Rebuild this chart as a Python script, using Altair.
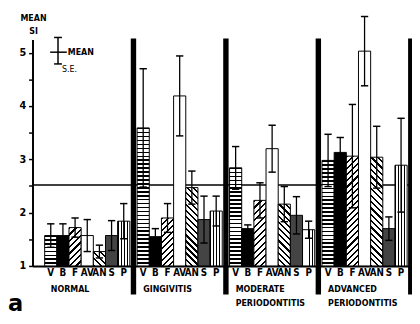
import math
import pandas as pd
import altair as alt

# ---------------- data ----------------
groups = ["NORMAL", "GINGIVITIS", "MODERATE\nPERIODONTITIS", "ADVANCED\nPERIODONTITIS"]
cats = ["V", "B", "F", "AV", "AN", "S", "P"]

normal_mean = [1.57, 1.57, 1.72, 1.57, 1.27, 1.57, 1.84]
normal_se = [0.22, 0.22, 0.18, 0.30, 0.12, 0.28, 0.33]
ging_mean = [3.59, 1.55, 1.90, 4.19, 2.47, 1.87, 2.03]
ging_se = [1.11, 0.15, 0.27, 0.75, 0.31, 0.44, 0.28]
mod_mean = [2.84, 1.70, 2.23, 3.20, 2.16, 1.95, 1.68]
mod_se = [0.40, 0.07, 0.33, 0.44, 0.33, 0.35, 0.16]
adv_mean = [2.98, 3.13, 3.06, 5.03, 3.04, 1.70, 2.89]
adv_se = [0.49, 0.28, 0.97, 0.65, 0.58, 0.22, 0.88]

ref_level = [2.52]
y_ticks = [1, 1.5, 2, 2.5, 3, 3.5, 4, 4.5, 5]

means = [normal_mean, ging_mean, mod_mean, adv_mean]
ses = [normal_se, ging_se, mod_se, adv_se]

# ---------------- layout ----------------
W, H = 387, 231
XDOM = [0, 31.2]
YDOM = [1, 5.25]
PX_X = W / (XDOM[1] - XDOM[0])
PX_Y = H / (YDOM[1] - YDOM[0])
STRIDE = 7.6
FONT = "DejaVu Sans Condensed"

rows = []
k = 0
for g in range(4):
    for i, c in enumerate(cats):
        m, s = means[g][i], ses[g][i]
        x0 = 1 + STRIDE * g + i
        rows.append(dict(idx=k, grp=g, cat=c, mean=m, se=s, x0=x0, x1=x0 + 1,
                         xc=x0 + 0.5, capl=x0 + 0.2, capr=x0 + 0.8,
                         lo=m - s, hi=m + s, base=1))
        k += 1
df = pd.DataFrame(rows)

gdf = pd.DataFrame({"g": groups, "gx": [1 + STRIDE * g + 0.5 for g in range(4)]})
sdf = pd.DataFrame({"sx": [8.3 + STRIDE * g for g in range(4)]})
rdf = pd.DataFrame({"ref": ref_level})

XS = alt.Scale(domain=XDOM, nice=False, zero=False)
YS = alt.Scale(domain=YDOM, nice=False, zero=False)
XA = alt.Axis(labels=False, ticks=False, grid=False, title=None,
              domainColor="black", domainWidth=2)
YA = alt.Axis(values=y_ticks,
              labelExpr="datum.value % 1 === 0 ? format(datum.value, 'd') : ''",
              grid=False, title=None, domainColor="black", domainWidth=2,
              tickColor="black", tickWidth=1.5, tickSize=4,
              labelFont=FONT, labelFontWeight="bold", labelFontSize=11,
              labelColor="black", labelPadding=3)


def X(f):
    return alt.X(f, type="quantitative", scale=XS, axis=XA)


def Y(f):
    return alt.Y(f, type="quantitative", scale=YS, axis=YA)


def stripes(n, frac):
    st = []
    for j in range(n):
        a = j / n
        b = (j + frac) / n
        e = (j + 1) / n
        st += [{"offset": a, "color": "black"}, {"offset": b, "color": "black"},
               {"offset": b, "color": "white"}, {"offset": e, "color": "white"}]
    return st


def fill_for(cat, mean):
    h = max((mean - 1) * PX_Y, 1)
    w = PX_X
    if cat == "B":
        return "black"
    if cat == "AV":
        return "white"
    if cat == "S":
        return "#444444"
    if cat == "V":
        n = max(2, round(h / 4))
        return {"gradient": "linear", "x1": 0, "y1": 0, "x2": 0, "y2": 1,
                "stops": stripes(n, 0.4)}
    if cat == "P":
        return {"gradient": "linear", "x1": 0, "y1": 0, "x2": 1, "y2": 0,
                "stops": stripes(4, 0.3)}
    c = (w + h) / (w * w + h * h)
    n = max(2, round((w + h) / (math.sqrt(2) * 4.5)))
    if cat == "F":
        return {"gradient": "linear", "x1": 0, "y1": 0, "x2": c * w, "y2": c * h,
                "stops": stripes(n, 0.35)}
    return {"gradient": "linear", "x1": 0, "y1": 1, "x2": c * w, "y2": 1 - c * h,
            "stops": stripes(n, 0.35)}


layers = []

# reference line
layers.append(alt.Chart(rdf).mark_rule(color="black", strokeWidth=1.5).encode(
    y=Y("ref"), x=alt.value(0), x2=alt.value(W)))

# bars
for _, r in df.iterrows():
    layers.append(
        alt.Chart(df).transform_filter(f"datum.idx == {int(r['idx'])}")
        .mark_bar(fill=fill_for(r["cat"], r["mean"]), stroke="black", strokeWidth=1)
        .encode(x=X("x0"), x2="x1", y=Y("mean"), y2="base"))

# error bars
layers.append(alt.Chart(df).mark_rule(color="black", strokeWidth=1.3).encode(
    x=X("xc"), y=Y("lo"), y2="hi"))
layers.append(alt.Chart(df).mark_rule(color="black", strokeWidth=1.5).encode(
    x=X("capl"), x2="capr", y=Y("hi")))
layers.append(alt.Chart(df).mark_rule(color="black", strokeWidth=1.5).encode(
    x=X("capl"), x2="capr", y=Y("lo")))

# separators
layers.append(alt.Chart(sdf).mark_rule(color="black", strokeWidth=5.5).encode(
    x=X("sx"), y=alt.value(-1), y2=alt.value(260)))

# category labels
layers.append(alt.Chart(df).mark_text(font=FONT, fontWeight="bold", fontSize=10,
                                      baseline="middle", color="black").encode(
    x=X("xc"), y=alt.value(238), text="cat:N"))

# group labels
layers.append(alt.Chart(gdf).mark_text(font=FONT, fontWeight="bold", fontSize=9,
                                       align="left", baseline="top", lineBreak="\n",
                                       lineHeight=14, color="black").encode(
    x=X("gx"), y=alt.value(251), text="g:N"))

# y title
tdf = pd.DataFrame({"t": ["MEAN\nSI"]})
layers.append(alt.Chart(tdf).mark_text(font=FONT, fontWeight="bold", fontSize=9,
                                       align="center", baseline="top", lineBreak="\n",
                                       lineHeight=13, color="black").encode(
    x=alt.value(1), y=alt.value(-26), text="t:N"))

# legend glyph
ldf = pd.DataFrame({"m": ["MEAN"], "s": ["S.E."], "a": ["a"]})
layers.append(alt.Chart(ldf).mark_rule(color="black", strokeWidth=1.5).encode(
    x=alt.value(26), y=alt.value(-2), y2=alt.value(25)))
layers.append(alt.Chart(ldf).mark_rule(color="black", strokeWidth=1.5).encode(
    x=alt.value(22), x2=alt.value(30), y=alt.value(-2)))
layers.append(alt.Chart(ldf).mark_rule(color="black", strokeWidth=1.5).encode(
    x=alt.value(22), x2=alt.value(30), y=alt.value(25)))
layers.append(alt.Chart(ldf).mark_rule(color="black", strokeWidth=1.5).encode(
    x=alt.value(18), x2=alt.value(35), y=alt.value(13)))
layers.append(alt.Chart(ldf).mark_text(font=FONT, fontWeight="bold", fontSize=9,
                                       align="left", baseline="middle", color="black").encode(
    x=alt.value(36), y=alt.value(13), text="m:N"))
layers.append(alt.Chart(ldf).mark_text(font=FONT, fontSize=9,
                                       align="left", baseline="middle", color="black").encode(
    x=alt.value(30), y=alt.value(30), text="s:N"))
layers.append(alt.Chart(ldf).mark_text(font="DejaVu Sans", fontWeight="bold", fontSize=23,
                                       align="left", baseline="alphabetic", color="black").encode(
    x=alt.value(-25), y=alt.value(277), text="a:N"))

chart = alt.layer(*layers).properties(
    width=W, height=H,
    autosize=alt.AutoSizeParams(type="none"),
    padding={"left": 25, "top": 29, "right": 0, "bottom": 48},
    background="white",
).configure_view(stroke=None)

chart.save("out.html", embed_options={"renderer": "svg", "actions": False})
